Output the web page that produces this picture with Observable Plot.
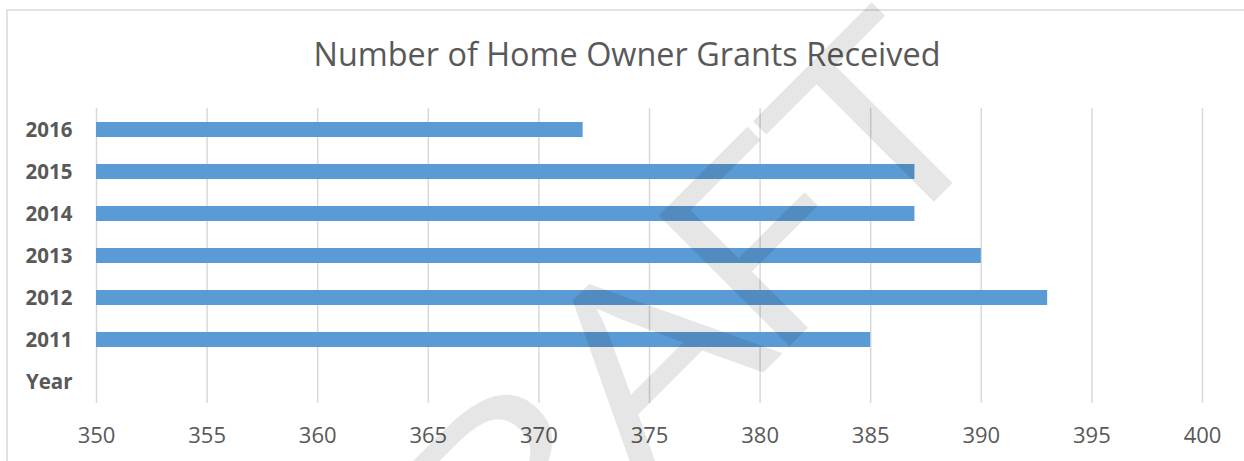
<!DOCTYPE html>
<html>
<head>
<meta charset="utf-8">
<script src="https://cdn.jsdelivr.net/npm/d3@7"></script>
<script src="https://cdn.jsdelivr.net/npm/@observablehq/plot@0.6"></script>
<style>
  html, body { margin: 0; padding: 0; background: #ffffff; }
  #chart { position: relative; width: 1244px; height: 461px; overflow: hidden; }
</style>
</head>
<body>
<div id="chart"></div>
<script>
// ---- data ----
const titleText = "Number of Home Owner Grants Received";
const years = ["2011", "2012", "2013", "2014", "2015", "2016"];
const grants = [385, 393, 390, 387, 387, 372];
const yCategories = ["2016", "2015", "2014", "2013", "2012", "2011", "Year"];
const xDomain = [350, 400];
const xTicks = [350, 355, 360, 365, 370, 375, 380, 385, 390, 395, 400];
const watermarkLetters = ["D", "R", "A", "F", "T"];

const data = years.map((y, i) => ({year: y, value: grants[i]}));

const W = 1244, H = 461;
const plot = Plot.plot({
  width: W,
  height: H,
  marginLeft: 96,
  marginRight: 42,
  marginTop: 108,
  marginBottom: 58,
  style: {background: "transparent", fontFamily: "'Open Sans', sans-serif", color: "#595959"},
  x: {domain: xDomain, ticks: xTicks, label: null},
  y: {domain: yCategories, paddingInner: 0.64, paddingOuter: 0.32, label: null},
  marks: [
    Plot.ruleX(xTicks, {stroke: "#d9d9d9", strokeWidth: 1.5}),
    Plot.barX(data, {x1: () => xDomain[0], x2: "value", y: "year", fill: "#5B9BD5"}),
    Plot.axisX({ticks: xTicks, tickSize: 0, tickPadding: 24, fontSize: 22, fill: "#595959", label: null}),
    Plot.axisY({tickSize: 0, tickPadding: 24, fontSize: 20.5, fontWeight: "bold", fill: "#595959", label: null})
  ]
});
document.getElementById("chart").appendChild(plot);

const svg = d3.select(plot);
// chart border (top & left visible)
svg.append("path")
  .attr("d", `M7,${H} L7,10 L${W},10`)
  .attr("fill", "none")
  .attr("stroke", "#d9d9d9")
  .attr("stroke-width", 1.5);
// title
svg.append("text")
  .attr("x", 627)
  .attr("y", 66)
  .attr("text-anchor", "middle")
  .attr("font-family", "'Open Sans', sans-serif")
  .attr("font-size", 32.4)
  .attr("fill", "#595959")
  .text(titleText);
// diagonal watermark: letters placed along a -45° baseline (u = along baseline, v = across)
const wmU = [-204, 15, 204, 364, 531];
const wmV = 803;
const wm = svg.append("g").attr("opacity", 0.095);
watermarkLetters.forEach((ch, i) => {
  const u = wmU[i];
  const px = (u + wmV) / Math.SQRT2, py = (wmV - u) / Math.SQRT2;
  wm.append("text")
    .attr("transform", `translate(${px.toFixed(1)},${py.toFixed(1)}) rotate(-45) scale(1.22,1)`)
    .attr("text-anchor", "middle")
    .attr("font-family", "'Open Sans', sans-serif")
    .attr("font-size", 259)
    .attr("fill", "#000000")
    .text(ch);
});
</script>
</body>
</html>
